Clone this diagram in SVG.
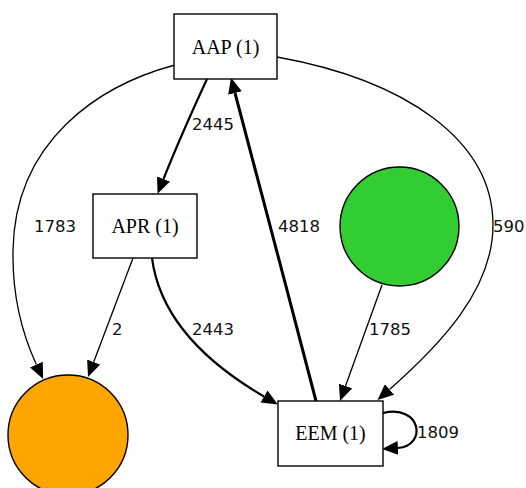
<svg xmlns="http://www.w3.org/2000/svg" width="526" height="488" viewBox="0 0 526 488">
<style>
.node rect,.node circle{stroke:#000;stroke-width:1.4}
.node rect{fill:#fff}
.nl{font-family:"Liberation Serif","Times New Roman",serif;font-size:20px;text-anchor:middle;fill:#000}
.el{font-family:"DejaVu Sans","Verdana",sans-serif;font-size:16.5px;fill:#111}
.e{fill:none;stroke:#000}
</style>
<defs>
<marker id="ah" viewBox="0 0 16 14" refX="0" refY="7" markerWidth="16" markerHeight="14" markerUnits="userSpaceOnUse" orient="auto">
<path d="M0,0 L16,7 L0,14 z" fill="#000"/>
</marker>
</defs>
<rect width="526" height="488" fill="#fff"/>
<g id="connectors">
<path class="e" style="stroke-width:2.2" d="M207,79 C195,105 175,150 163.5,179" marker-end="url(#ah)"/>
<path class="e" style="stroke-width:3" d="M316,401 C290,300 255,170 235,93" marker-end="url(#ah)"/>
<path class="e" style="stroke-width:1.3" d="M175,65 C100,85 15,140 13,250 C12,300 25,340 36.4,364.6" marker-end="url(#ah)"/>
<path class="e" style="stroke-width:1.3" d="M277,57 C405,80 493,140 493,225 C493,290 440,345 389.5,389.5" marker-end="url(#ah)"/>
<path class="e" style="stroke-width:1.3" d="M133,258 L93.7,362" marker-end="url(#ah)"/>
<path class="e" style="stroke-width:2.2" d="M152,258 C160,320 210,365 264,396.5" marker-end="url(#ah)"/>
<path class="e" style="stroke-width:1.3" d="M382,285 L345.5,386" marker-end="url(#ah)"/>
<path class="e" style="stroke-width:2.2" d="M383,413 C422,404 427,446 398,448" marker-end="url(#ah)"/>
<text class="el" x="192" y="130">2445</text>
<text class="el" x="278" y="232">4818</text>
<text class="el" x="34" y="232">1783</text>
<text class="el" x="493" y="232">590</text>
<text class="el" x="112" y="335">2</text>
<text class="el" x="192" y="335">2443</text>
<text class="el" x="369" y="335">1785</text>
<text class="el" x="417" y="438">1809</text>
</g>
<g id="AAP" class="node">
<rect x="174" y="14" width="103" height="65"/>
<text class="nl" x="225.5" y="54">AAP (1)</text>
</g>
<g id="APR" class="node">
<rect x="93" y="194" width="104" height="64"/>
<text class="nl" x="145" y="233">APR (1)</text>
</g>
<g id="EEM" class="node">
<rect x="278" y="401" width="105" height="65"/>
<text class="nl" x="330.5" y="440">EEM (1)</text>
</g>
<g id="orange" class="node">
<circle cx="68" cy="435" r="60" fill="#FFA500"/>
</g>
<g id="green" class="node">
<circle cx="399.5" cy="226.5" r="59.5" fill="#32CD32"/>
</g>
</svg>
